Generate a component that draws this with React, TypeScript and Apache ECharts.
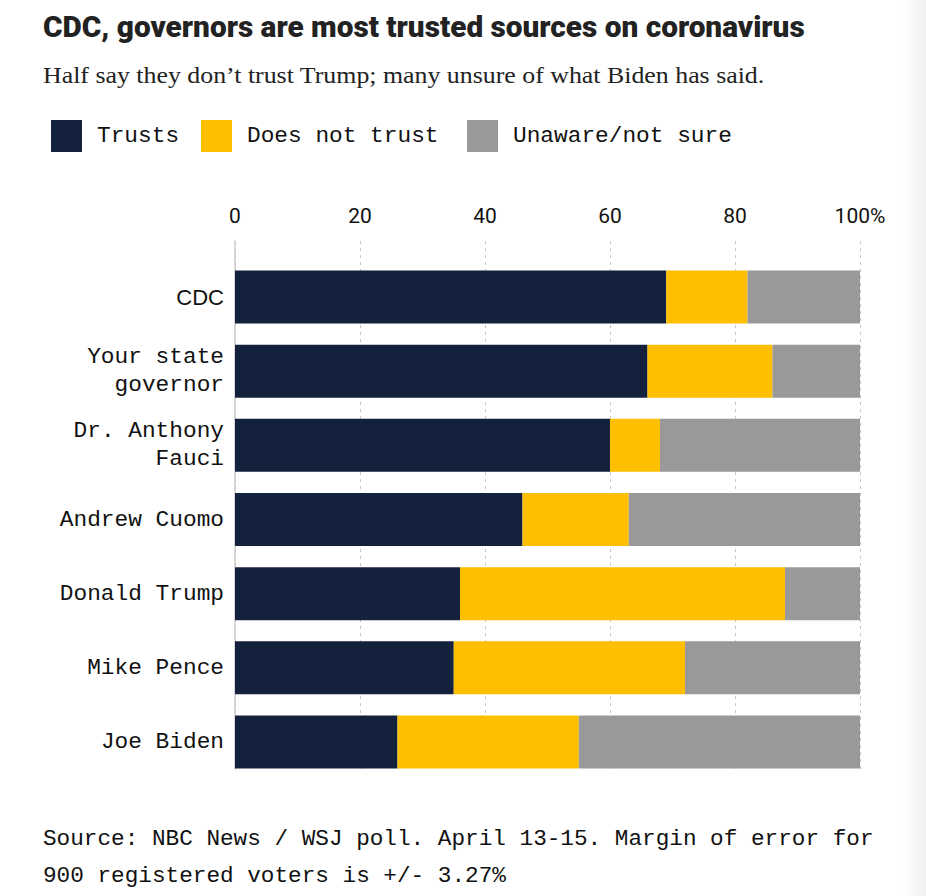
import React, { useEffect, useRef } from "react";
import * as echarts from "echarts";

const categories = [
  "CDC",
  "Your state\ngovernor",
  "Dr. Anthony\nFauci",
  "Andrew Cuomo",
  "Donald Trump",
  "Mike Pence",
  "Joe Biden",
];
const trusts = [69, 66, 60, 46, 36, 35, 26];
const doesNotTrust = [13, 20, 8, 17, 52, 37, 29];
const unaware = [18, 14, 32, 37, 12, 28, 45];
const seriesNames = ["Trusts", "Does not trust", "Unaware/not sure"];
const xTicks = [0, 20, 40, 60, 80, 100];

const TITLE = "CDC, governors are most trusted sources on coronavirus";
const SUBTITLE = "Half say they don\u2019t trust Trump; many unsure of what Biden has said.";
const SOURCE = "Source: NBC News / WSJ poll. April 13-15. Margin of error for\n900 registered voters is +/- 3.27%";

const COLORS = ["#14213d", "#fdbf00", "#999999"];
const MONO = "'Liberation Mono', 'DejaVu Sans Mono', monospace";

function measure(text: string, font: string): number {
  try {
    const c = document.createElement("canvas");
    const ctx = c.getContext("2d");
    if (!ctx) return 0;
    ctx.font = font;
    return ctx.measureText(text).width;
  } catch (e) {
    return 0;
  }
}

export default function App() {
  const ref = useRef<HTMLDivElement>(null);
  useEffect(() => {
    document.body.style.margin = "0";
    if (!ref.current) return;
    const chart = echarts.init(ref.current, undefined, { renderer: "svg" });

    const titleW = measure(TITLE, "900 30px Roboto") || 840;
    const titleScale = 762 / titleW;
    const subW = measure(SUBTITLE, "24px 'Liberation Serif'") || 700;
    const subScale = 722 / subW;

    const legendLefts = [51, 201, 467];

    const option: any = {
      animation: false,
      backgroundColor: "#ffffff",
      legend: seriesNames.map((n, i) => ({
        data: [n],
        left: legendLefts[i],
        top: 120,
        padding: 0,
        icon: "rect",
        itemWidth: 31,
        itemHeight: 32,
        selectedMode: false,
        textStyle: {
          fontFamily: MONO,
          fontSize: 22.8,
          color: "#111",
          padding: [0, 0, 0, 10],
        },
      })),
      grid: [
        { left: 235, width: 625, top: 260, height: 519 },
        { left: 235, width: 625, top: 241, height: 528 },
      ],
      xAxis: [
        {
          type: "value",
          gridIndex: 0,
          min: 0,
          max: 100,
          show: false,
        },
        {
          type: "value",
          gridIndex: 1,
          position: "top",
          min: 0,
          max: 100,
          interval: 20,
          axisLine: { show: false },
          axisTick: { show: false },
          axisLabel: {
            fontFamily: "Roboto, 'Liberation Sans', sans-serif",
            fontSize: 21,
            color: "#111",
            margin: 15,
            formatter: (v: number) => (v === xTicks[xTicks.length - 1] ? v + "%" : String(v)),
          },
          splitLine: {
            show: true,
            lineStyle: { color: "#c8c8c8", width: 1, type: [3, 4] },
          },
        },
      ],
      yAxis: [
        {
          type: "category",
          gridIndex: 0,
          data: categories,
          inverse: true,
          axisLine: { show: false },
          axisTick: { show: false },
          axisLabel: {
            fontFamily: MONO,
            fontSize: 22.8,
            color: "#111",
            margin: 11,
            lineHeight: 28,
            align: "right",
            formatter: (v: string) => (v === "CDC" ? "{sans|" + v + "}" : v),
            rich: {
              sans: {
                fontFamily: "'Liberation Sans', Arial, sans-serif",
                fontSize: 22,
                color: "#111",
              },
            },
          },
        },
        {
          type: "category",
          gridIndex: 1,
          data: [""],
          axisLine: { show: true, lineStyle: { color: "#cccccc", width: 1.5 } },
          axisTick: { show: false },
          axisLabel: { show: false },
          splitLine: { show: false },
        },
      ],
      series: [trusts, doesNotTrust, unaware].map((d, i) => ({
        name: seriesNames[i],
        type: "bar",
        stack: "total",
        xAxisIndex: 0,
        yAxisIndex: 0,
        barWidth: 53,
        data: d,
        itemStyle: { color: COLORS[i] },
        emphasis: { disabled: true },
      })),
      graphic: [
        {
          type: "rect",
          silent: true,
          shape: { x: 0, y: 0, width: 24, height: 896 },
          x: 902,
          y: 0,
          style: {
            fill: new echarts.graphic.LinearGradient(0, 0, 1, 0, [
              { offset: 0, color: "rgba(240,240,240,0)" },
              { offset: 1, color: "rgba(240,240,240,1)" },
            ]),
          },
          z: -1,
        },
        {
          type: "text",
          x: 43,
          y: 26,
          scaleX: titleScale,
          style: {
            text: TITLE,
            fontFamily: "Roboto",
            fontWeight: 900,
            fontSize: 30,
            fill: "#222",
            verticalAlign: "middle",
          },
        },
        {
          type: "text",
          x: 43,
          y: 75,
          scaleX: subScale,
          style: {
            text: SUBTITLE,
            fontFamily: "'Liberation Serif', serif",
            fontSize: 24,
            fill: "#222",
            verticalAlign: "middle",
          },
        },
        {
          type: "text",
          x: 43,
          y: 820,
          style: {
            text: SOURCE,
            fontFamily: MONO,
            fontSize: 22.7,
            lineHeight: 37,
            fill: "#111",
            verticalAlign: "top",
          },
        },
      ],
    };
    chart.setOption(option);
    return () => chart.dispose();
  }, []);
  return <div ref={ref} style={{ width: 926, height: 896 }} />;
}
